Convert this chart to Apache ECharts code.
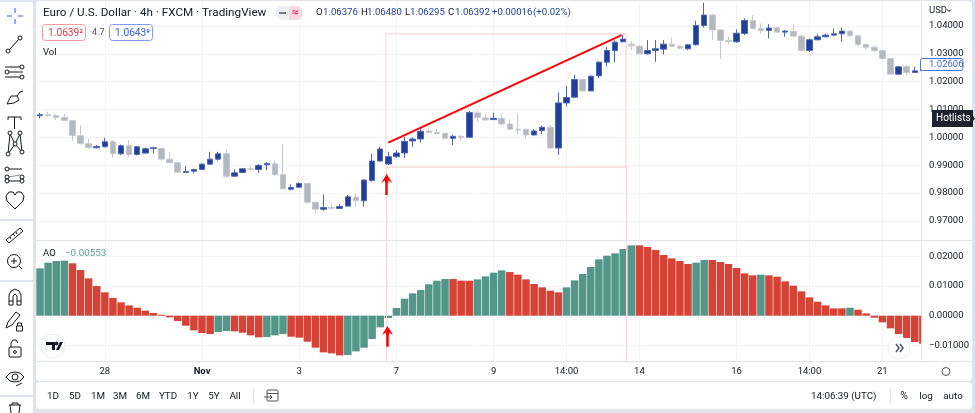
<!DOCTYPE html>
<html><head><meta charset="utf-8">
<style>html,body{margin:0;padding:0;background:#e0e3eb;overflow:hidden}#c{width:975px;height:413px;filter:blur(0.35px)}</style>
<script src="https://cdn.jsdelivr.net/npm/echarts@6/dist/echarts.min.js"></script>
</head><body><div id="c"></div>
<script>
const opens=[1.00776,1.00812,1.00788,1.00716,1.00596,1.00056,.99768,.99624,.9966,.9984,.99408,.99696,.99384,.99432,.996,.996,.99216,.99084,.98736,.98784,.98844,.99036,.99216,.99408,.98604,.98736,.98868,.98844,.99012,.99048,.98664,.98136,.98208,.9834,.97668,.97416,.97476,
.97444,.97528,.97852,.9772,.98452,.99148,.9904,.99304,.99436,.99868,.9994,1.00228,1.0018,1.00144,.99964,1.00036,1.0,1.00876,1.00696,1.00636,1.00684,1.0048,1.00288,1.00288,1.00084,1.0024,1.0036,.99616,1.01236,1.0144,1.02076,1.01668,1.02208,1.027,1.0312,1.03432,
1.03348,1.03276,1.03,1.0312,1.03168,1.03348,1.03264,1.0318,1.03324,1.0402,1.04392,1.0386,1.0348,1.03432,1.03732,1.042,1.03912,1.0384,1.03936,1.0378,1.03804,1.03636,1.0312,1.03504,1.03612,1.03672,1.0372,1.03816,1.03648,1.03336,1.0324,1.0312,1.02832,1.02268,1.02544,1.02328,1.02388];
const closes=[1.00812,1.00776,1.00716,1.00608,1.00068,.9978,.99636,.99672,.9984,.99408,.99696,.99384,.9966,.99588,.99624,.99216,.99084,.98748,.98772,.98844,.99036,.99216,.99408,.98604,.98724,.98868,.98844,.98988,.9906,.98664,.98148,.98196,.9834,.97668,.97416,.97476,.97452,
.97516,.97864,.9772,.98464,.99148,.9958,.99304,.99436,.99856,.9994,1.00216,1.00168,1.00132,.99964,1.00036,.99988,1.00888,1.00708,1.00624,1.00684,1.0048,1.00288,1.00264,1.00084,1.00228,1.0036,.99616,1.01236,1.01428,1.02076,1.01668,1.02196,1.027,1.0312,1.0342,1.03528,
1.03288,1.03,1.0312,1.0318,1.03348,1.03276,1.03204,1.03324,1.0402,1.04392,1.0386,1.0348,1.03432,1.0374,1.042,1.03912,1.0384,1.03924,1.0378,1.03816,1.03636,1.0312,1.03504,1.03612,1.03672,1.0372,1.03816,1.03648,1.03336,1.0324,1.0312,1.02832,1.02268,1.02532,1.02328,1.02388,1.02592];
const lows=[1.0068,1.0074,1.0062,1.00572,.99876,.99732,.99576,.996,.99636,.99264,.9936,.993,.99348,.9942,.9942,.99156,.9906,.98724,.98724,.987,.9882,.99012,.99156,.98532,.9858,.98712,.98784,.98724,.9882,.98604,.98136,.981,.98184,.9762,.97284,.97356,.97404,
.97444,.97504,.97504,.97504,.98404,.99124,.99004,.99256,.99256,.99664,.99808,1.00144,1.0012,.99928,.99724,.9988,.99988,1.00564,1.006,1.00624,1.00432,1.00264,1.00108,.99952,1.00072,1.0012,.99604,.99364,1.01104,1.01428,1.01644,1.01656,1.02124,1.02544,1.02688,1.03408,
1.03132,1.02988,1.02976,1.0271,1.02976,1.03252,1.03156,1.03132,1.033,1.03948,1.03492,1.02808,1.03348,1.03396,1.03672,1.03876,1.03732,1.03552,1.03756,1.03612,1.036,1.03108,1.0306,1.0348,1.03588,1.03636,1.03432,1.03612,1.03276,1.03156,1.0306,1.02772,1.02256,1.02244,1.02232,1.02316,1.02376];
const highs=[1.00884,1.0092,1.00836,1.00836,1.00596,1.0044,.9996,.9972,.99984,.999,.99744,.999,.99684,.99636,.9966,.99624,.9948,.99132,.98964,.98868,.9906,.9948,.9948,.9954,.98844,.98892,.99,.99036,.99108,.99156,.99756,.98304,.98388,.9834,.97668,.97944,.9762,
.976,.97924,.97984,.985,.994,.99664,.9948,.99544,1.00024,1.0,1.00324,1.00324,1.003,1.00144,1.00084,1.00084,1.00948,1.0096,1.00864,1.00888,1.0084,1.00648,1.00864,1.00312,1.00288,1.00408,1.00432,1.01608,1.01848,1.02244,1.021,1.0222,1.02736,1.0324,1.0348,1.03672,
1.03468,1.03312,1.03492,1.03492,1.03492,1.03588,1.03312,1.03348,1.04188,1.04836,1.04428,1.03888,1.03612,1.03876,1.04272,1.04392,1.04092,1.04068,1.03972,1.03852,1.04068,1.03696,1.03552,1.03696,1.03732,1.03912,1.03948,1.03852,1.03672,1.03372,1.033,1.03132,1.02832,1.02556,1.02592,1.02532,1.02652];
const aoValues=[.01596,.01787,.01843,.01855,.01765,.0154,.01259,.01,.00787,.00596,.0045,.00348,.0027,.00169,.0009,.00034,-.00056,-.0018,-.00337,-.00495,-.00584,-.00618,-.00551,-.00517,-.00528,-.00573,-.00663,-.00731,-.00719,-.00663,-.00618,-.00708,-.00742,-.00877,-.01079,-.01236,-.0127,-.01338,-.01326,-.01203,-.01079,-.00787,-.00393,-.00079,.00259,.00573,.00753,.00865,.01057,.0118,.01236,.01236,.0118,.0118,.01225,.01326,.0145,.01529,.01472,.01383,.01225,.01068,.00955,.00843,.00787,.00955,.01191,.01405,.01641,.019,.02023,.02102,.02248,.02372,.02372,.02315,.02214,.02046,.01933,.01843,.01742,.01787,.01877,.01877,.0181,.01742,.01607,.01427,.0136,.01383,.0136,.01315,.01158,.01012,.00821,.00618,.00472,.00348,.00247,.00247,.0027,.00202,.00079,-.00067,-.00225,-.00427,-.00618,-.00753,-.00888,-.00944];
const timeTickIndex=[8,20,32,44,56,65,74,86,95,104];
const timeTickLabels=['28','Nov','3','7','9','14:00','14','16','14:00','21'];
const priceTicks=[.97,.98,.99,1.0,1.01,1.02,1.03,1.04];
const aoTicks=[-.01,0,.01,.02];
const rangeButtons=[['1D',53],['5D',75],['1M',98],['3M',120],['6M',143],['YTD',168],['1Y',193],['5Y',214],['All',235]];

const FONT='Roboto,"Noto Sans",sans-serif', INK='#131722', GRID='#f3f4f8', EDGE='#e0e3eb', PINK='#fbd5d5';
const TEAL='#52978a', RED='#d64336', BLUE='#1f3f99', GRAY='#b4b6c0';
const xMin=-0.5, xMax=108.77;
const fmt=v=>(v<0?'\u2212':'')+Math.abs(v).toFixed(5);

const g=[];
const Z=100;
const rect=(x,y,w,h,fill,r,stroke,z)=>g.push({type:'rect',z:z==null?Z:z,silent:true,shape:{x,y,width:w,height:h,r:r||0},style:{fill:fill||'none',stroke:stroke||'none',lineWidth:1}});
const line=(pts,stroke,w)=>g.push({type:'polyline',z:Z,silent:true,shape:{points:pts},style:{fill:'none',stroke:stroke||INK,lineWidth:w||1}});
const poly=(pts,fill)=>g.push({type:'polygon',z:Z,silent:true,shape:{points:pts},style:{fill}});
const circ=(x,y,r,stroke,fill,z)=>g.push({type:'circle',z:z||Z,silent:true,shape:{cx:x,cy:y,r},style:{fill:fill||'#fff',stroke:stroke||INK,lineWidth:1}});
const txt=(s,x,y,size,fill,align,weight)=>g.push({type:'text',z:Z+1,silent:true,style:{text:s,x,y,fill:fill||INK,align:align||'left',verticalAlign:'middle',font:(weight||'normal')+' '+size+'px '+FONT}});

// frame
rect(0,2,33,217,'#fff',0,null,-5);rect(0,221,33,59,'#fff',0,null,-5);rect(0,282,33,113,'#fff',0,null,-5);rect(0,397,33,16,'#fff',0,null,-5);
rect(36,1,936,380,'#fff',4,null,-5);rect(36,382,936,27,'#fff',4,null,-5);
// price-scale panel sits above the marks, so the newest bar is cut at the scale edge
rect(921.5,2,50,359,'#fff',0,null,3);
line([[36,240.5],[972,240.5]],EDGE);line([[36,361.5],[972,361.5]],EDGE);

// toolbar icons
const B='#2962ff';
line([[15,8],[15,13]],B);line([[15,19],[15,24]],B);line([[7,16],[12,16]],B);line([[18,16],[23,16]],B);
line([[9,50],[19,39]]);circ(20,38,2);circ(8,51,2);
line([[5,67],[20,67]]);line([[9,72],[23,72]]);line([[5,77],[20,77]]);circ(22,67,2);circ(7,72,2);circ(22,77,2);
line([[7,104],[11,96],[17,96],[19,100],[14,103],[7,104]]);line([[17,96],[20,92],[23,91]]);
line([[8,117],[21,117]]);line([[14.5,117],[14.5,129]]);line([[8,117],[8,120]]);line([[21,117],[21,120]]);
line([[10,134],[15,144],[20,134],[22,152],[15,144],[8,154],[10,134]]);circ(10,133,2);circ(20,133,2);circ(15,144,2);circ(8,154,2);circ(22,152,2);
line([[8,169],[22,169]]);line([[8,177],[20,175]],'#888');line([[8,181],[22,181]]);circ(7,169,2);circ(7,177,2);circ(7,181,2);circ(22,177,2);circ(22,181,2);
line([[15,209],[7,201],[6,196],[9,192],[13,192],[15,195],[17,192],[21,192],[24,196],[23,201],[15,209]]);
line([[6,240],[20,228],[23,231],[9,243],[6,240]]);line([[10,237],[11,239]]);line([[13,234],[15,236]]);line([[16,232],[17,234]]);
circ(14,261,6.5);line([[11,261],[17,261]]);line([[14,258],[14,264]]);line([[19,266],[22,269]]);
line([[9,305],[9,295],[11,291],[15,289],[19,291],[21,295],[21,305],[17,305],[17,296],[15,294],[13,296],[13,305],[9,305]]);line([[9,301],[13,301]]);line([[17,301],[21,301]]);
line([[6,328],[8,322],[16,312],[20,315],[12,325],[6,328]]);rect(16.5,326,6,5,'#fff',0,INK);line([[17.5,326],[17.5,323],[21.5,323],[21.5,326]]);
rect(9,347,12,10,'#fff',1,INK);line([[11,347],[11,343],[13,340],[16,340],[18,343]]);circ(15,352,1.4);
line([[6,377],[10,373],[15,372],[20,373],[24,377],[20,381],[15,382],[10,381],[6,377]]);circ(15,377,3);line([[16,386],[22,383]]);
line([[9,405],[21,405]]);line([[12,405],[12,403],[18,403],[18,405]]);line([[10,405],[11,413]]);line([[20,405],[19,413]]);

// header
txt('Euro / U.S. Dollar \u00b7 4h \u00b7 FXCM \u00b7 TradingView',43,13,11.7,INK);
rect(275,6,28,14,'#eef0f4',7);g.push({type:'rect',z:Z,silent:true,shape:{x:289,y:6,width:14,height:14,r:[0,7,7,0]},style:{fill:'#f9d7e1'}});
line([[279,13],[286,13]],'#787b86',2);txt('\u2248',295.5,13,12,'#e0336c','center','bold');
const ohlc=[['O',316,INK],['1.06376',323],['H',361,INK],['1.06480',367],['L',405,INK],['1.06295',410],['C',448,INK],['1.06392',455],['+0.00016',492],['(+0.02%)',533]];
ohlc.forEach(o=>txt(o[0],o[1],13,9.6,o[2]||BLUE));
rect(42.5,24.5,43,16,'#fff',3,'#f19a9f');txt('1.0639\u00b2',48,33,10.2,'#e53743');
txt('4.7',92,33,9,'#555');
rect(109.5,24.5,43,16,'#fff',3,'#7f98f5');txt('1.0643\u2079',115,33,10.2,'#3a62dd');
txt('Vol',43,53,9.5,INK);
txt('AO',43,254,9.5,INK);txt('\u22120.00553',65,254,9.8,'#5aa295');

// right scale
txt('USD',929,10.5,9.5,INK);line([[947,9.5],[949,11.5],[951,9.5]],INK);
rect(920.5,58.5,42.5,12,'#fff',2,'#4d72e0');txt('1.02606',929,65,9.5,'#3f63c4');
poly([[932,110],[973,110],[973,116],[975,118.5],[973,121],[973,127],[932,127]],'#1e222d');
txt('Hotlists',936,118.5,10,'#fff');
// round buttons
circ(53,346,12,'#eceef2','#fff');
poly([[46,342],[55,342],[55,350],[52,350],[52,345],[46,345]],'#131722');
poly([[56,350],[60,342],[63,342],[59,350]],'#131722');circ(56.5,343.5,1.5,'#131722','#131722');
circ(899,348,11,'#eceef2','#fff');line([[896,344],[899,348],[896,352]],'#50535e',1.5);line([[900,344],[903,348],[900,352]],'#50535e',1.5);
circ(946,371.5,4,'#50535e');

// bottom bar
rangeButtons.forEach(b=>txt(b[0],b[1],396.5,9.8,INK,'center'));
line([[253.5,388],[253.5,404]],EDGE);
rect(267,390,11,11,'#fff',1,'#50535e');line([[267,393.5],[278,393.5]],'#50535e');line([[264,397],[272,397]],'#50535e');line([[270,395],[272,397],[270,399]],'#50535e');
txt('14:06:39 (UTC)',811,396.5,9.8,INK);txt('%',904,396.5,10.5,INK,'center');txt('log',926,396.5,9.8,INK,'center');txt('auto',953,396.5,9.8,INK,'center');
line([[890.5,388],[890.5,404]],EDGE);

const candleData=opens.map((o,i)=>[i,o,closes[i],lows[i],highs[i]]);
const aoData=aoValues.map((v,i)=>({value:[i,v],itemStyle:{color:(i===0||v>aoValues[i-1])?TEAL:RED}}));
const xA=(gridIndex,show)=>({type:'value',gridIndex,min:xMin,max:xMax,axisLine:{show:false},
  axisTick:{show:false,customValues:timeTickIndex},splitLine:{show:true,lineStyle:{color:GRID,width:1}},
  axisLabel:{show,customValues:timeTickIndex,margin:5,color:INK,fontFamily:FONT,fontSize:9.5,hideOverlap:false,
    formatter:v=>{const s=timeTickLabels[timeTickIndex.indexOf(v)];return s==='Nov'?'{b|Nov}':s;},rich:{b:{fontWeight:'bold',fontFamily:FONT,fontSize:9.5,color:INK}}}});
// gridlines sit behind the marks
const yGrid=(gridIndex,min,max,ticks)=>({type:'value',gridIndex,position:'right',min,max,
  axisLine:{show:false},axisTick:{show:false,customValues:ticks},
  splitLine:{show:true,lineStyle:{color:GRID}},axisLabel:{show:false,customValues:ticks}});
// scale line and labels sit above the price-scale panel
const yScale=(gridIndex,min,max,ticks)=>({type:'value',gridIndex,position:'right',min,max,z:10,
  axisLine:{show:true,lineStyle:{color:EDGE}},axisTick:{show:false,customValues:ticks},
  splitLine:{show:false},axisLabel:{customValues:ticks,margin:8,color:INK,fontFamily:FONT,fontSize:9.5,formatter:fmt}});
const pinkLine={color:PINK,width:1,type:'solid'};
const RR='#ff0000';
const arrow='path://M5 0L10 7L6.5 5L6.5 7L3.5 7L3.5 5L0 7Z';
const pMin=.9631,pMax=1.04862,aMin=-.01544,aMax=.02518;

echarts.init(document.getElementById('c'),null,{renderer:'canvas'}).setOption({
  animation:false,backgroundColor:'#e0e3eb',
  grid:[{left:36,right:54,top:2,height:238},{left:36,right:54,top:241,height:120.5}],
  xAxis:[xA(0,false),xA(1,true)],
  yAxis:[yGrid(0,pMin,pMax,priceTicks),yScale(0,pMin,pMax,priceTicks),yGrid(1,aMin,aMax,aoTicks),yScale(1,aMin,aMax,aoTicks)],
  graphic:g,
  series:[
   {type:'candlestick',xAxisIndex:0,yAxisIndex:0,barWidth:6,data:candleData,silent:true,
    itemStyle:{color:BLUE,color0:GRAY,borderColor:'#4d67b5',borderColor0:'#c6c8cf',borderWidth:1},
    markArea:{silent:true,itemStyle:{color:'rgba(255,255,255,0)',borderColor:PINK,borderWidth:1.2},data:[[{coord:[42.7,1.0372]},{coord:[72.35,.98932]}]]},
    markLine:{silent:true,animation:false,symbol:['none','none'],label:{show:false},lineStyle:pinkLine,data:[
      [{coord:[42.7,.98932]},{coord:[42.7,pMin]}],
      [{coord:[72.35,.98932]},{coord:[72.35,pMin]}],
      [{coord:[43,.99808],lineStyle:{color:RR,width:2}},{coord:[71.8,1.03672]}],
      [{coord:[42.8,.97924],lineStyle:{color:RR,width:2.5},symbol:'none'},{coord:[42.8,.9852],symbol:arrow,symbolSize:[11,9]}]
    ]}},
   {type:'bar',xAxisIndex:1,yAxisIndex:2,barWidth:7.5,data:aoData,silent:true,
    markLine:{silent:true,animation:false,symbol:['none','none'],label:{show:false},lineStyle:pinkLine,data:[
      {xAxis:42.7},{xAxis:72.35},
      [{coord:[42.9,-.01045],lineStyle:{color:RR,width:2.5},symbol:'none'},{coord:[42.9,-.005],symbol:arrow,symbolSize:[11,9]}]
    ]}}
  ]
});
</script></body></html>
